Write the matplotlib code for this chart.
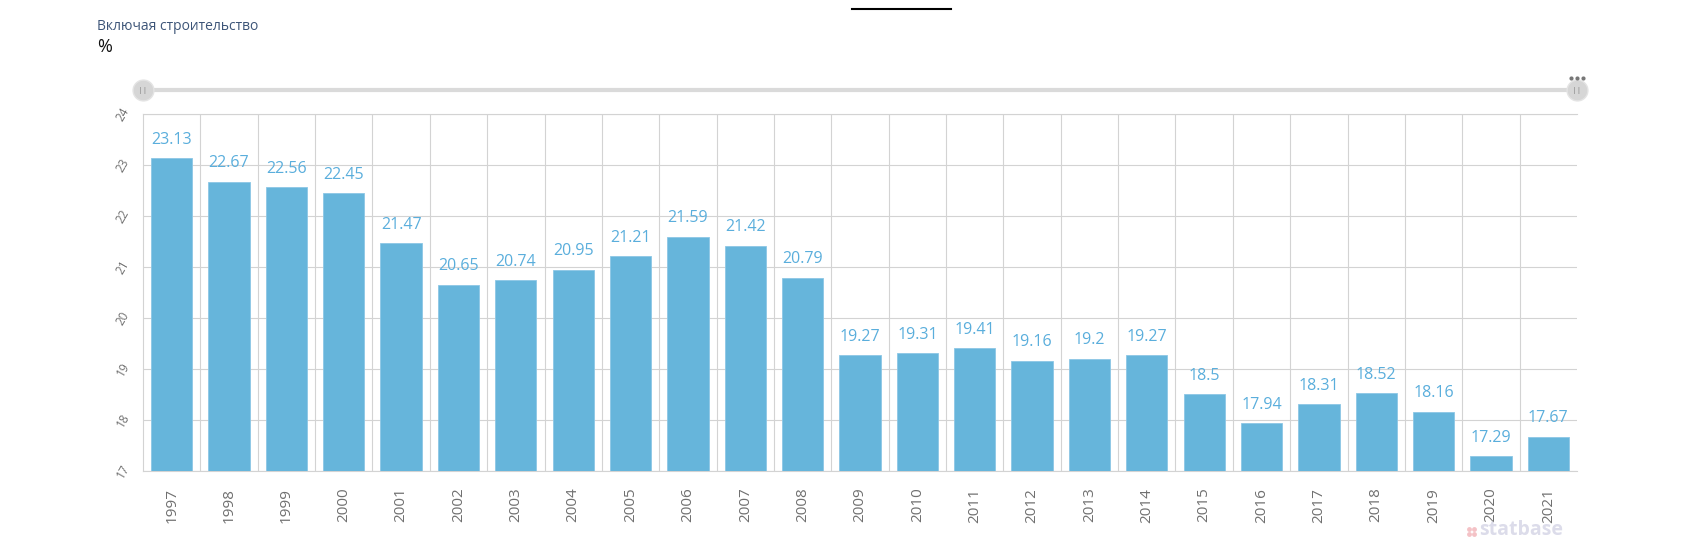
import matplotlib
matplotlib.use('Agg')
import matplotlib.pyplot as plt
from matplotlib.lines import Line2D

plt.rcParams['font.family'] = ['Open Sans', 'DejaVu Sans']

years = ['1997', '1998', '1999', '2000', '2001', '2002', '2003', '2004', '2005',
         '2006', '2007', '2008', '2009', '2010', '2011', '2012', '2013', '2014',
         '2015', '2016', '2017', '2018', '2019', '2020', '2021']
values = [23.13, 22.67, 22.56, 22.45, 21.47, 20.65, 20.74, 20.95, 21.21,
          21.59, 21.42, 20.79, 19.27, 19.31, 19.41, 19.16, 19.2, 19.27,
          18.5, 17.94, 18.31, 18.52, 18.16, 17.29, 17.67]
labels = ['23.13', '22.67', '22.56', '22.45', '21.47', '20.65', '20.74', '20.95', '21.21',
          '21.59', '21.42', '20.79', '19.27', '19.31', '19.41', '19.16', '19.2', '19.27',
          '18.5', '17.94', '18.31', '18.52', '18.16', '17.29', '17.67']
y_ticks = [17, 18, 19, 20, 21, 22, 23, 24]

bar_color = '#66b5db'
grid_color = '#d3d3d3'

W, H = 1706, 545
fig = plt.figure(figsize=(W / 100, H / 100), dpi=100)
left, right, top, bottom = 143, 1577, 114, 471
ax = fig.add_axes([left / W, 1 - bottom / H, (right - left) / W, (bottom - top) / H])

x = list(range(len(years)))
ax.bar(x, [v - 17 for v in values], bottom=17, width=0.72, color=bar_color,
       edgecolor='#8cc7e6', linewidth=0.6, zorder=3)
for xi, v, lab in zip(x, values, labels):
    ax.annotate(lab, (xi, v), xytext=(0, 7.5), textcoords='offset points',
                ha='center', va='bottom', fontsize=11.5, color='#5aaedc', zorder=4)

ax.set_xlim(-0.5, len(years) - 0.5)
ax.set_ylim(17, 24)
ax.set_yticks(y_ticks)
ax.set_yticklabels([str(t) for t in y_ticks], rotation=60, fontsize=8.5, color='#707070',
                   va='center', ha='right')
ax.set_xticks(x)
ax.set_xticklabels(years, rotation=90, fontsize=11, color='#707070')
ax.set_xticks([i + 0.5 for i in x[:-1]], minor=True)
ax.tick_params(axis='both', which='both', length=0)
ax.tick_params(axis='x', pad=12)
ax.tick_params(axis='y', pad=8)
ax.grid(axis='y', color=grid_color, linewidth=0.8, zorder=0)
ax.grid(axis='x', which='minor', color=grid_color, linewidth=0.8, zorder=0)
for s in ['top', 'left', 'bottom']:
    ax.spines[s].set_color(grid_color)
    ax.spines[s].set_linewidth(0.8)
ax.spines['right'].set_visible(False)

# header texts
fig.text(97 / W, 1 - 26 / H, 'Включая строительство', fontsize=10, color='#3d5578',
         ha='left', va='center')
fig.text(97 / W, 1 - 47 / H, '%', fontsize=13, color='#111111', ha='left', va='center')

# top short line
fig.add_artist(Line2D([852 / W, 951 / W], [1 - 9 / H, 1 - 9 / H], color='black', linewidth=1.5))

# slider
sy = 1 - 90 / H
fig.add_artist(Line2D([left / W, right / W], [sy, sy], color='#dadada', linewidth=3))
for hx in [left, right]:
    fig.add_artist(Line2D([hx / W], [sy], marker='o', markersize=15, color='#d6d6d6',
                          markeredgecolor='#e4e4e4'))
    fig.text(hx / W, sy, '||', fontsize=6, color='#888888', ha='center', va='center')
for dx in [-6, 0, 6]:
    fig.add_artist(Line2D([(right + dx) / W], [1 - 78 / H], marker='o', markersize=3,
                          color='#777777', markeredgewidth=0))

# watermark
for ddx, ddy in [(0, 0), (5, 0), (0, 5), (5, 5)]:
    fig.add_artist(Line2D([(1469 + ddx) / W], [1 - (529 + ddy) / H], marker='o',
                          markersize=3.5, color='#f4c2c6', markeredgewidth=0))
fig.text(1479 / W, 1 - 530 / H, 'statbase', fontsize=14, color='#dcdcea', ha='left',
         va='center', fontweight='bold')

fig.savefig('out.png', dpi=100)
